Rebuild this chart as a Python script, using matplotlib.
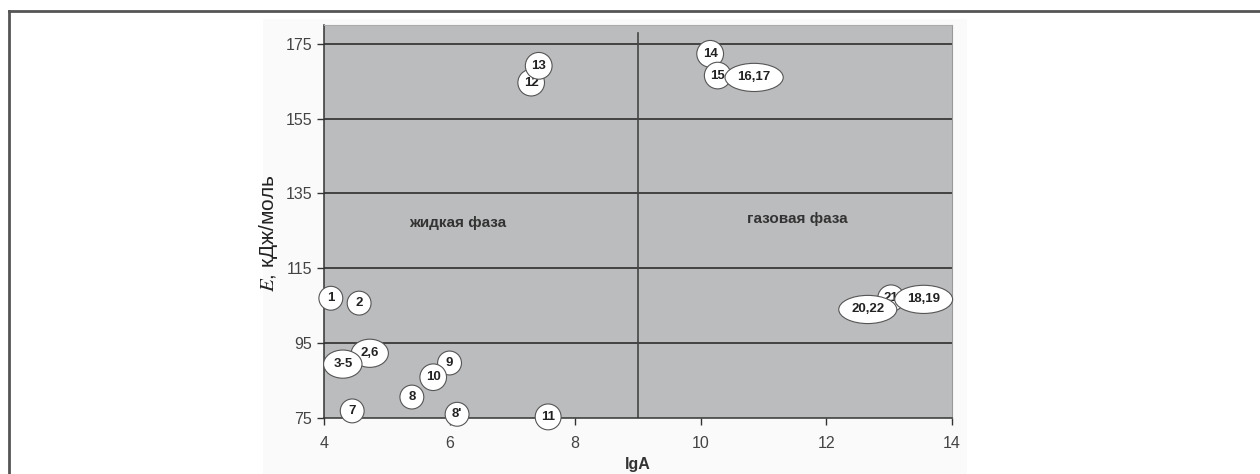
import matplotlib
matplotlib.use("Agg")
import matplotlib.pyplot as plt
from matplotlib.lines import Line2D
from matplotlib.patches import Rectangle

plt.rcParams["font.family"] = ["Liberation Sans", "DejaVu Sans"]
plt.rcParams["mathtext.fontset"] = "stix"

# Point labels and their (lgA, E) coordinates
labels = ["1", "2", "2,6", "3-5", "7", "8", "8'", "9", "10", "11",
          "12", "13", "14", "15", "16,17", "21", "18,19", "20,22"]
lg_a = [4.11, 4.56, 4.73, 4.30, 4.45, 5.40, 6.12, 6.00, 5.74, 7.57,
        7.30, 7.42, 10.15, 10.27, 10.85, 13.03, 13.55, 12.66]
energy = [107.0, 105.7, 92.3, 89.4, 76.9, 80.6, 76.0, 89.7, 85.9, 75.3,
          164.6, 169.1, 172.3, 166.5, 166.0, 107.0, 106.7, 104.0]

x_ticks = [4, 6, 8, 10, 12, 14]
y_ticks = [75, 95, 115, 135, 155, 175]
phase_boundary = 9
regions = [("жидкая фаза", 6.13, 127.0), ("газовая фаза", 11.53, 128.3)]

fig = plt.figure(figsize=(12.6, 4.74), dpi=100)
fig.patch.set_facecolor("white")

# faint chart-area background and the page frame
fig.add_artist(Rectangle((263 / 1260, 0), 704 / 1260, 455 / 474,
                         transform=fig.transFigure, fc="#fafafa", ec="none", zorder=-5))
fig.add_artist(Line2D([9 / 1260, 1], [1 - 11 / 474, 1 - 11 / 474],
                      transform=fig.transFigure, color="#555555", lw=2))
fig.add_artist(Line2D([9 / 1260, 9 / 1260], [0, 1 - 11 / 474],
                      transform=fig.transFigure, color="#555555", lw=2))

ax = fig.add_axes([0.2571, 0.1181, 0.4984, 0.8291])
ax.set_facecolor("#bbbcbe")
ax.set_xlim(4, 14)
ax.set_ylim(75, 180)
ax.set_xticks(x_ticks)
ax.set_yticks(y_ticks)

for y in y_ticks[1:]:
    ax.axhline(y, color="#222222", lw=1.1, zorder=1)
ax.plot([phase_boundary, phase_boundary], [75, 178], color="#444444", lw=1.2, zorder=1)

for s in ["left", "bottom"]:
    ax.spines[s].set_color("#333333")
    ax.spines[s].set_linewidth(1.1)
ax.spines["top"].set_color("#aaaaaa")
ax.spines["right"].set_color("#999999")

ax.tick_params(axis="both", direction="out", length=5, width=1, color="#333333",
               labelsize=11.5, labelcolor="#444444")
ax.tick_params(axis="x", pad=8)

for text, x, y in regions:
    ax.text(x, y, text, ha="center", va="center", fontsize=11,
            fontweight="bold", color="#333333")

for lab, x, y in zip(labels, lg_a, energy):
    style = "circle,pad=0.45" if len(lab) <= 2 else "ellipse,pad=0.3"
    ax.text(x, y, lab, ha="center", va="center", fontsize=9.5, fontweight="bold",
            color="#222222", zorder=5, clip_on=False,
            bbox=dict(boxstyle=style, fc="white", ec="#555555", lw=0.8))

ax.set_xlabel("lgA", fontsize=11.5, fontweight="bold", color="#333333", labelpad=4)
ax.set_ylabel(r"$E$, кДж/моль", fontsize=15, color="#222222")
ax.yaxis.set_label_coords(-0.07, 0.47)

fig.savefig("out.png", dpi=100)
